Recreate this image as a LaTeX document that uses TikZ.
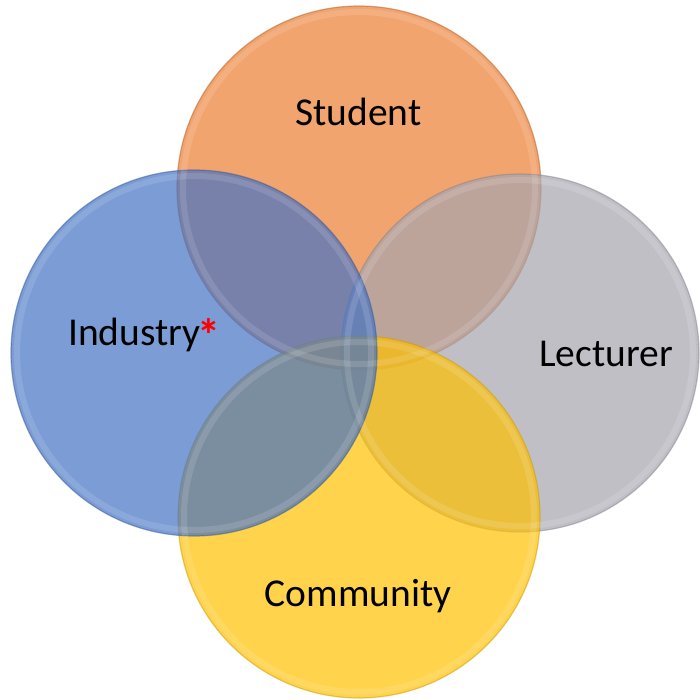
\documentclass[tikz,border=0pt]{standalone}
\usepackage{fontspec}
\setmainfont{Carlito}
\begin{document}
\begin{tikzpicture}[x=1pt,y=-1pt,
  ring/.style={circle, inner sep=0pt, minimum size=#1, fill opacity=0.7, draw opacity=0.5, line width=1.2pt},
  rim/.style={draw=white, draw opacity=0.12, line width=6pt},
  label/.style={font=\fontsize{39.5}{46}\selectfont, text=black, inner sep=0pt, anchor=base}]
\useasboundingbox (0,0) rectangle (700,700);
\definecolor{orng}{HTML}{ED7D31}
\definecolor{gry}{HTML}{A5A4AE}
\definecolor{ylw}{HTML}{FFC000}
\definecolor{blu}{HTML}{4472C4}
% circles, bottom to top
\node[ring=364pt, fill=orng, draw=orng!75!black] (cs) at (359,188) {};
\node[ring=358pt, fill=gry, draw=gry!80!black] (cl) at (520,353) {};
\node[ring=362pt, fill=ylw, draw=ylw!80!black] (cc) at (359,517) {};
\node[ring=366pt, fill=blu, draw=blu!75!black] (ci) at (194,353) {};
% soft inner rims
\draw[rim] (cs.center) circle[radius=176pt];
\draw[rim] (cl.center) circle[radius=173pt];
\draw[rim] (cc.center) circle[radius=175pt];
\draw[rim] (ci.center) circle[radius=177pt];
% labels
\node[label] (ts) at (358.5,126) {Student};
\node[label, anchor=base west] (ti) at (68,345) {Industry\kern-3pt\raisebox{-6pt}{\textcolor{red}{\fontsize{46}{46}\selectfont\bfseries *}}};
\node[label] (tl) at (606,366) {Lecturer};
\node[label] (tc) at (358,606) {Community};
\end{tikzpicture}
\end{document}
